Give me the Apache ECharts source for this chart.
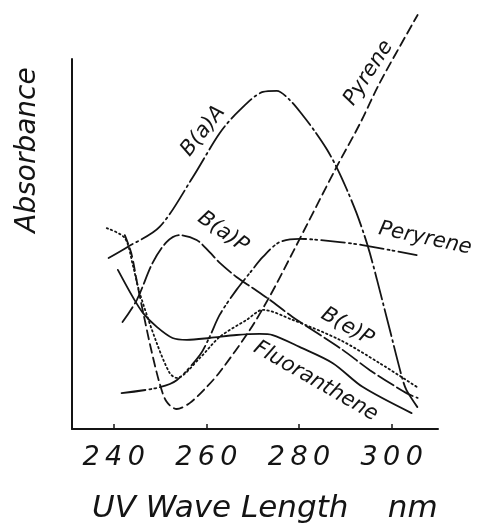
<!DOCTYPE html>
<html><head><meta charset="utf-8">
<script src="https://cdn.jsdelivr.net/npm/echarts@6/dist/echarts.min.js"></script>
<style>html,body{margin:0;padding:0;background:#fff}#c{width:477px;height:524px}</style>
</head><body><div id="c"></div>
<script>
// ---- data (wavelength nm, relative absorbance) ----
const tickLabels = [240, 260, 280, 300];

const baA = [[238.9,46.2],[243.0,49.2],[249.9,54.6],[257.1,68.1],[262.9,80.0],[267.2,86.2],[272.2,91.1],[275.2,91.4],[278.0,88.9],[280.8,84.8],[283.5,80.3],[286.0,75.6],[288.1,70.8],[290.3,64.8],[292.4,58.4],[294.2,52.0],[295.3,47.5],[296.8,40.5],[299.6,26.8],[302.2,14.1],[303.2,10.5],[306.0,5.1]];

const pyrene = [[242.4,52.4],[243.8,47.5],[245.2,38.5],[246.7,29.5],[248.1,21.4],[249.9,12.4],[251.4,7.4],[253.6,5.4],[256.4,7.0],[260.1,11.4],[262.9,15.4],[269.4,26.8],[273.7,35.9],[278.6,47.6],[288.1,70.8],[293.1,82.4],[297.4,93.5],[305.6,111.9]];

const baP = [[241.9,28.9],[245.0,34.9],[248.4,44.9],[251.4,50.5],[254.2,52.4],[257.9,51.1],[260.7,47.8],[262.9,44.9],[266.5,41.1],[270.0,38.1],[273.7,34.9],[278.6,30.3],[289.4,21.4],[295.3,15.9],[303.2,9.7],[305.6,8.4]];

const beP = [[238.5,54.3],[242.4,51.6],[244.2,43.9],[245.6,36.8],[249.3,23.2],[252.1,15.1],[253.6,13.8],[258.6,19.2],[262.9,24.9],[268.7,29.5],[272.2,32.2],[278.6,29.5],[288.8,24.1],[297.4,17.8],[305.4,11.4]];

const fluoranthene = [[240.9,43.0],[244.1,35.7],[246.3,31.4],[249.3,27.6],[252.7,24.6],[255.8,24.1],[260.7,24.6],[266.5,25.4],[271.5,25.7],[274.3,25.4],[280.1,22.2],[287.3,17.8],[293.7,11.4],[304.3,4.3]];

const peryrene = [[241.7,9.7],[249.3,11.1],[253.6,13.2],[258.6,20.0],[260.7,24.9],[262.9,30.9],[266.5,37.6],[269.4,42.2],[272.2,46.5],[275.8,50.5],[280.1,51.4],[288.8,50.5],[293.7,49.7],[305.4,47.0]];

const seriesNames = ['B(a)A', 'Pyrene', 'B(a)P', 'B(e)P', 'Fluoranthene', 'Peryrene'];

// ---- chart ----
const INK = '#141414';
const FONT = '"DejaVu Sans", sans-serif';
const chart = echarts.init(document.getElementById('c'), null, {renderer: 'canvas'});

function lineSeries(name, data, dash, width) {
  return {
    name, type: 'line', data, smooth: 0.3, symbol: 'none', clip: false,
    lineStyle: {color: INK, width: width || 1.8, type: dash, cap: 'round', opacity: 1},
    silent: true, animation: false
  };
}

// curve annotations (placed in data space)
const annotations = [
  {name: 'B(a)A', value: [259.3, 80.5], rot: 52},
  {name: 'Pyrene', value: [295.0, 96.2], rot: 57},
  {name: 'B(a)P', value: [263.6, 53.2], rot: -35},
  {name: 'Peryrene', value: [307.2, 51.5], rot: -12},
  {name: 'B(e)P', value: [290.4, 27.6], rot: -30},
  {name: 'Fluoranthene', value: [283.6, 12.9], rot: -30}
];

const labelStyle = {
  show: true, position: 'inside', formatter: p => p.name,
  color: INK, opacity: 1, fontSize: 21, fontStyle: 'italic', fontFamily: FONT,
  textBorderWidth: 0
};

const option = {
  backgroundColor: '#fff',
  animation: false,
  grid: {left: 72, right: 39, top: 59, bottom: 95, containLabel: false},
  xAxis: {
    type: 'value', min: 231, max: 310,
    axisLine: {show: true, onZero: false, lineStyle: {color: INK, width: 2}},
    axisTick: {show: true, inside: true, length: 5, customValues: tickLabels, lineStyle: {color: INK, width: 1.5}},
    axisLabel: {
      show: true, customValues: tickLabels, margin: 15,
      color: INK, fontSize: 27, fontStyle: 'italic', fontFamily: FONT,
      formatter: v => String(v).split('').join('\u2009')
    },
    splitLine: {show: false}
  },
  yAxis: {
    type: 'value', min: 0, max: 100,
    axisLine: {show: true, lineStyle: {color: INK, width: 2}},
    axisTick: {show: false}, axisLabel: {show: false}, splitLine: {show: false}
  },
  series: [
    lineSeries(seriesNames[0], baA, [28, 4, 2, 4]),
    lineSeries(seriesNames[1], pyrene, [9, 5]),
    lineSeries(seriesNames[2], baP, [18, 4]),
    lineSeries(seriesNames[3], beP, [1.5, 3]),
    lineSeries(seriesNames[4], fluoranthene, 'solid'),
    lineSeries(seriesNames[5], peryrene, [24, 4, 2, 3, 2, 4]),
    {
      type: 'scatter', symbolSize: 0, silent: true, clip: false, z: 5,
      itemStyle: {opacity: 1},
      data: annotations.map(a => ({
        name: a.name, value: a.value,
        label: Object.assign({}, labelStyle, {rotate: a.rot})
      })),
      label: labelStyle,
      emphasis: {disabled: true}
    }
  ],
  graphic: [
    {
      type: 'text', x: 28, y: 150, rotation: Math.PI / 2,
      style: {
        text: 'Absorbance', fill: INK,
        font: 'italic 28px "DejaVu Sans"',
        align: 'center', verticalAlign: 'middle',
        textAlign: 'center', textVerticalAlign: 'middle'
      }
    },
    {
      type: 'text', x: 92, y: 509,
      style: {
        text: 'UV Wave Length    nm', fill: INK,
        font: 'italic 31px "DejaVu Sans"',
        align: 'left', verticalAlign: 'middle',
        textAlign: 'left', textVerticalAlign: 'middle'
      }
    }
  ]
};
chart.setOption(option);
</script>
</body></html>
